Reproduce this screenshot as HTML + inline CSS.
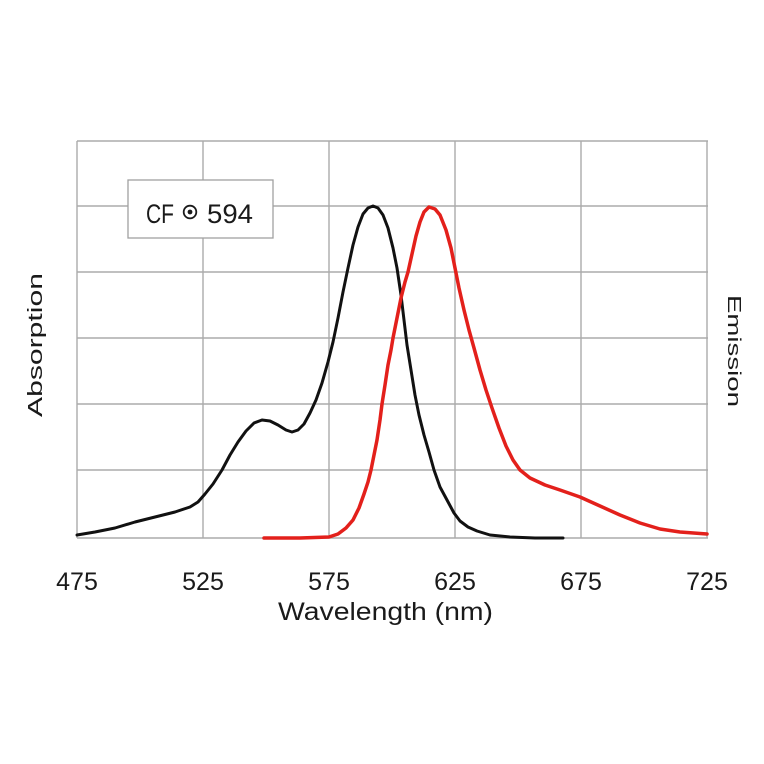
<!DOCTYPE html>
<html>
<head>
<meta charset="utf-8">
<style>
html,body{margin:0;padding:0;background:#fff;}
svg{display:block;}
text{font-family:"Liberation Sans","DejaVu Sans",sans-serif;fill:#1a1a1a;}
</style>
</head>
<body>
<svg width="764" height="764" viewBox="0 0 764 764" xmlns="http://www.w3.org/2000/svg">
<rect x="0" y="0" width="764" height="764" fill="#fff"/>
<g stroke="#ababab" stroke-width="1.4" fill="none">
<line x1="77" y1="141" x2="708" y2="141"/>
<line x1="77" y1="206" x2="708" y2="206"/>
<line x1="77" y1="272" x2="708" y2="272"/>
<line x1="77" y1="338" x2="708" y2="338"/>
<line x1="77" y1="404" x2="708" y2="404"/>
<line x1="77" y1="470" x2="708" y2="470"/>
<line x1="77" y1="538" x2="708" y2="538"/>
<line x1="77" y1="141" x2="77" y2="538"/>
<line x1="203" y1="141" x2="203" y2="538"/>
<line x1="329" y1="141" x2="329" y2="538"/>
<line x1="455" y1="141" x2="455" y2="538"/>
<line x1="581" y1="141" x2="581" y2="538"/>
<line x1="707" y1="141" x2="707" y2="538"/>
</g>
<rect x="128" y="180" width="145" height="58" fill="#fff" stroke="#a0a0a0" stroke-width="1.3"/>
<text x="146" y="223" font-size="27" textLength="28" lengthAdjust="spacingAndGlyphs">CF</text>
<circle cx="190" cy="212" r="6.3" fill="none" stroke="#1a1a1a" stroke-width="1.8"/>
<circle cx="190" cy="212" r="2.4" fill="#1a1a1a"/>
<text x="207" y="223" font-size="27" textLength="46" lengthAdjust="spacingAndGlyphs">594</text>

<polyline fill="none" stroke="#111" stroke-width="3" stroke-linejoin="round" stroke-linecap="round"
points="77,535 95,532 115,528 135,522 155,517 175,512 190,507 198,502 205,494 213,484 222,470 230,455 238,442 246,431 254,423 262,420 270,421 278,425 286,430 292,432 298,430 304,424 310,413 316,400 322,383 328,362 333,342 338,318 343,292 348,268 353,245 358,227 363,214 368,208 373,206 378,208 383,215 388,228 393,248 397,268 401,295 404,320 407,345 411,370 415,395 419,415 424,435 429,452 434,470 440,487 447,500 454,513 460,521 468,527 477,531 490,535 510,537 535,538 563,538"/>
<polyline fill="none" stroke="#e3201b" stroke-width="3.5" stroke-linejoin="round" stroke-linecap="round"
points="264,538 300,538 329,537 338,534 346,528 353,520 359,508 364,494 368,482 371,470 374,455 377,440 380,420 382,404 385,385 388,365 391,350 393,338 397,318 401,298 405,282 408,272 412,254 416,236 420,222 424,212 429,207 435,209 440,215 446,230 451,248 455,268 459,288 464,310 469,330 474,348 480,370 486,390 492,408 499,428 506,446 513,460 520,470 530,478 545,485 560,490 580,497 600,506 620,515 640,523 660,529 680,532 707,534"/>

<g font-size="25" text-anchor="middle">
<text x="77" y="590">475</text>
<text x="203" y="590">525</text>
<text x="329" y="590">575</text>
<text x="455" y="590">625</text>
<text x="581" y="590">675</text>
<text x="707" y="590">725</text>
</g>
<text x="278" y="620" font-size="25" textLength="215" lengthAdjust="spacingAndGlyphs">Wavelength (nm)</text>
<text transform="translate(42,417) rotate(-90)" font-size="20" textLength="144" lengthAdjust="spacingAndGlyphs">Absorption</text>
<text transform="translate(728,295) rotate(90)" font-size="18" textLength="112" lengthAdjust="spacingAndGlyphs">Emission</text>
</svg>
</body>
</html>
